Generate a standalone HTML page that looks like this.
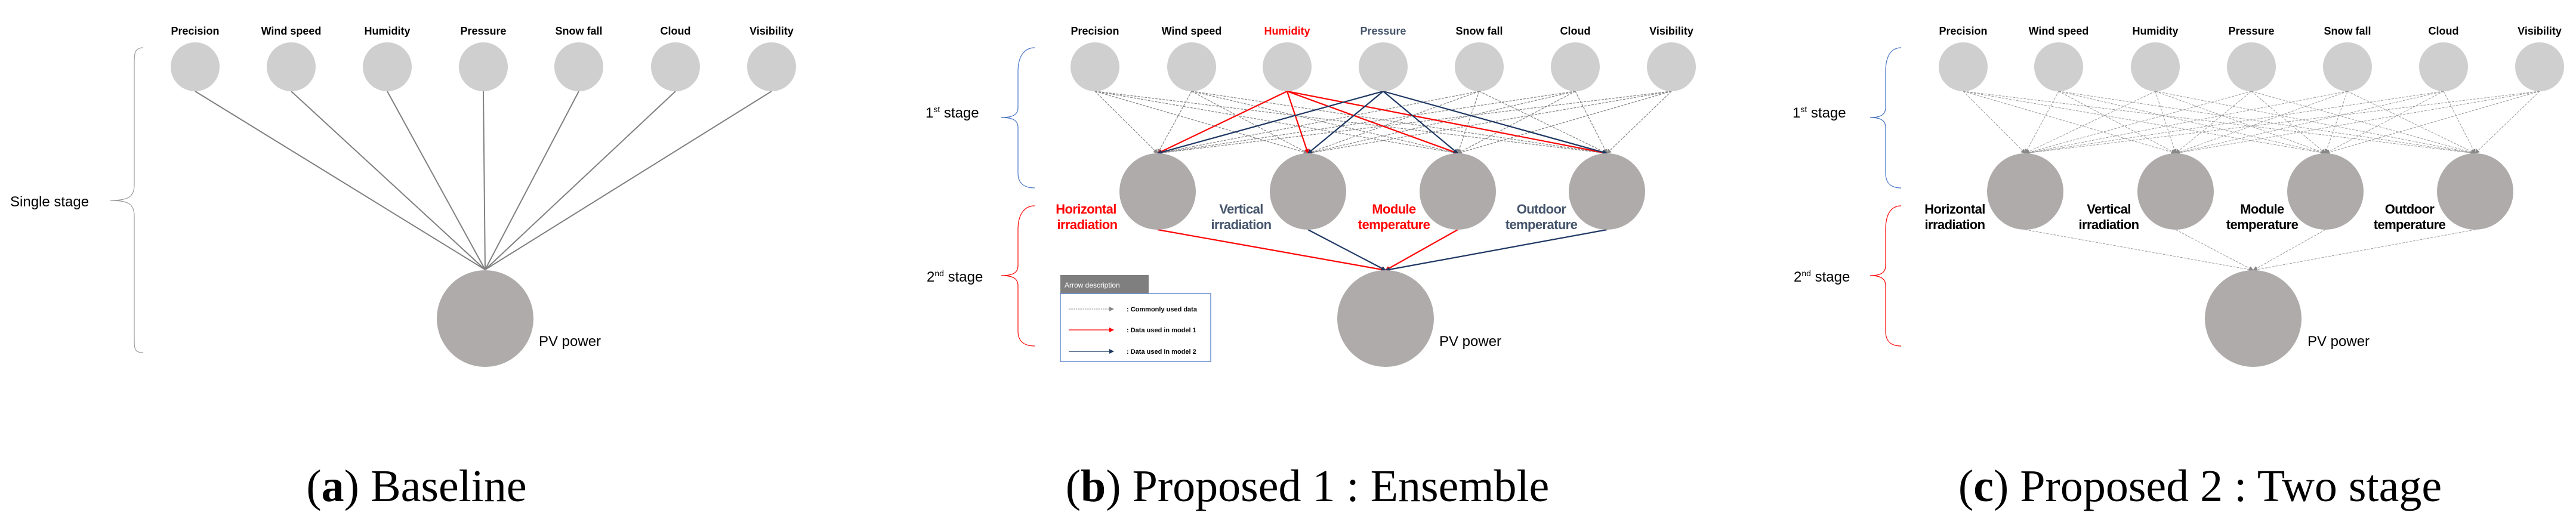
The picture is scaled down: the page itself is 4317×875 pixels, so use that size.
<!DOCTYPE html>
<html><head><meta charset="utf-8"><style>
html,body{margin:0;padding:0;background:#fff;}
svg{display:block;}
.t{font-family:"Liberation Sans",sans-serif;font-weight:bold;font-size:18px;text-anchor:middle;fill:#000;}
.m{font-family:"Liberation Sans",sans-serif;font-size:22px;font-weight:bold;text-anchor:middle;letter-spacing:-0.6px;}
.s{font-family:"Liberation Sans",sans-serif;font-size:24px;}
.cap{font-family:"Liberation Serif",serif;font-size:76px;text-anchor:middle;fill:#000;}
.lg{font-family:"Liberation Sans",sans-serif;font-size:11px;font-weight:bold;}
</style></head><body>
<svg id="s" width="4317" height="875" viewBox="0 0 4317 875" xmlns="http://www.w3.org/2000/svg">
<defs>
<marker id="ag" markerWidth="8" markerHeight="8" refX="7" refY="4" orient="auto" markerUnits="userSpaceOnUse"><path d="M0,0 L8,4 L0,8 z" fill="#888"/></marker>
<marker id="ar" markerWidth="8" markerHeight="8" refX="7" refY="4" orient="auto" markerUnits="userSpaceOnUse"><path d="M0,0 L8,4 L0,8 z" fill="#f00"/></marker>
<marker id="an" markerWidth="8" markerHeight="8" refX="7" refY="4" orient="auto" markerUnits="userSpaceOnUse"><path d="M0,0 L8,4 L0,8 z" fill="#1f3864"/></marker>
</defs>
<g id="lines"></g>

<!-- Panel a -->
<path d="M240,80 C225,80 225,90 225,110 L225,310 C225,330 215,336 185,336 C215,336 225,342 225,362 L225,565 C225,585 225,591 240,591" fill="none" stroke="#999" stroke-width="1.2"/>
<text class="s" x="17" y="346">Single stage</text>
<g fill="#d0cfd0">
<circle cx="327" cy="112" r="41"/><circle cx="488" cy="112" r="41"/><circle cx="649" cy="112" r="41"/><circle cx="810" cy="112" r="41"/><circle cx="970" cy="112" r="41"/><circle cx="1132" cy="112" r="41"/><circle cx="1293" cy="112" r="41"/>
</g>
<text x="327" y="58" class="t">Precision</text><text x="488" y="58" class="t">Wind speed</text><text x="649" y="58" class="t">Humidity</text><text x="810" y="58" class="t">Pressure</text><text x="970" y="58" class="t">Snow fall</text><text x="1132" y="58" class="t">Cloud</text><text x="1293" y="58" class="t">Visibility</text>
<circle cx="813" cy="534" r="81" fill="#afabab"/>
<text class="s" x="903" y="580">PV power</text>
<text class="cap" x="698" y="840">(<tspan font-weight="bold">a</tspan>) Baseline</text>

<!-- Panel b -->
<path d="M1734,80 C1720,80 1706,90 1706,120 L1706,180 C1706,192 1698,197 1678,197 C1698,197 1706,202 1706,214 L1706,290 C1706,310 1720,315 1734,315" fill="none" stroke="#4472c4" stroke-width="1.2"/>
<path d="M1734,345 C1720,345 1706,355 1706,385 L1706,445 C1706,457 1698,462 1678,462 C1698,462 1706,467 1706,479 L1706,555 C1706,575 1720,580 1734,580" fill="none" stroke="#f00" stroke-width="1.2"/>
<text class="s" x="1551" y="197">1<tspan font-size="14" dy="-9">st</tspan><tspan dy="9"> stage</tspan></text>
<text class="s" x="1553" y="472">2<tspan font-size="14" dy="-9">nd</tspan><tspan dy="9"> stage</tspan></text>
<g fill="#d0cfd0">
<circle cx="1835" cy="112" r="41"/><circle cx="1997" cy="112" r="41"/><circle cx="2157" cy="112" r="41"/><circle cx="2318" cy="112" r="41"/><circle cx="2479" cy="112" r="41"/><circle cx="2640" cy="112" r="41"/><circle cx="2801" cy="112" r="41"/>
</g>
<text x="1835" y="58" class="t">Precision</text><text x="1997" y="58" class="t">Wind speed</text><text x="2157" y="58" class="t" style="fill:#f00">Humidity</text><text x="2318" y="58" class="t" style="fill:#44546a">Pressure</text><text x="2479" y="58" class="t">Snow fall</text><text x="2640" y="58" class="t">Cloud</text><text x="2801" y="58" class="t">Visibility</text>
<g fill="#afabab"><circle cx="1940" cy="321" r="64"/><circle cx="2192" cy="321" r="64"/><circle cx="2443" cy="321" r="64"/><circle cx="2693" cy="321" r="64"/><circle cx="2322" cy="534" r="81"/></g>
<text class="m" fill="#f00" x="1820" y="358">Horizontal</text><text class="m" fill="#f00" x="1822" y="384">irradiation</text>
<text class="m" fill="#44546a" x="2080" y="358">Vertical</text><text class="m" fill="#44546a" x="2080" y="384">irradiation</text>
<text class="m" fill="#f00" x="2336" y="358">Module</text><text class="m" fill="#f00" x="2336" y="384">temperature</text>
<text class="m" fill="#44546a" x="2583" y="358">Outdoor</text><text class="m" fill="#44546a" x="2583" y="384">temperature</text>
<text class="s" x="2412" y="580">PV power</text>
<rect x="1777" y="461" width="148" height="31" fill="#7f7f7f"/>
<text x="1784" y="482" font-family="Liberation Sans,sans-serif" font-size="12" fill="#fff">Arrow description</text>
<rect x="1777" y="492" width="252" height="114" fill="#fff" stroke="#4472c4" stroke-width="1.2"/>
<line x1="1791" y1="518" x2="1866" y2="518" stroke="#888" stroke-dasharray="2 1" marker-end="url(#ag)"/>
<line x1="1791" y1="553" x2="1866" y2="553" stroke="#f00" stroke-width="1.3" marker-end="url(#ar)"/>
<line x1="1791" y1="589" x2="1866" y2="589" stroke="#1f3864" stroke-width="1.3" marker-end="url(#an)"/>
<text class="lg" x="1888" y="522">: Commonly used data</text>
<text class="lg" x="1888" y="557">: Data used in model 1</text>
<text class="lg" x="1888" y="593">: Data used in model 2</text>
<text class="cap" x="2191" y="840">(<tspan font-weight="bold">b</tspan>) Proposed 1 : Ensemble</text>

<!-- Panel c -->
<path d="M3186,80 C3172,80 3160,90 3160,120 L3160,180 C3160,192 3152,197 3134,197 C3152,197 3160,202 3160,214 L3160,290 C3160,310 3172,315 3186,315" fill="none" stroke="#4472c4" stroke-width="1.2"/>
<path d="M3186,345 C3172,345 3160,355 3160,385 L3160,445 C3160,457 3152,462 3134,462 C3152,462 3160,467 3160,479 L3160,555 C3160,575 3172,580 3186,580" fill="none" stroke="#f00" stroke-width="1.2"/>
<text class="s" x="3004" y="197">1<tspan font-size="14" dy="-9">st</tspan><tspan dy="9"> stage</tspan></text>
<text class="s" x="3006" y="472">2<tspan font-size="14" dy="-9">nd</tspan><tspan dy="9"> stage</tspan></text>
<g fill="#d0cfd0">
<circle cx="3290" cy="112" r="41"/><circle cx="3450" cy="112" r="41"/><circle cx="3612" cy="112" r="41"/><circle cx="3773" cy="112" r="41"/><circle cx="3934" cy="112" r="41"/><circle cx="4095" cy="112" r="41"/><circle cx="4256" cy="112" r="41"/>
</g>
<text x="3290" y="58" class="t">Precision</text><text x="3450" y="58" class="t">Wind speed</text><text x="3612" y="58" class="t">Humidity</text><text x="3773" y="58" class="t">Pressure</text><text x="3934" y="58" class="t">Snow fall</text><text x="4095" y="58" class="t">Cloud</text><text x="4256" y="58" class="t">Visibility</text>
<g fill="#afabab"><circle cx="3394" cy="321" r="64"/><circle cx="3646" cy="321" r="64"/><circle cx="3897" cy="321" r="64"/><circle cx="4148" cy="321" r="64"/><circle cx="3776" cy="534" r="81"/></g>
<text class="m" x="3276" y="358">Horizontal</text><text class="m" x="3276" y="384">irradiation</text>
<text class="m" x="3534" y="358">Vertical</text><text class="m" x="3534" y="384">irradiation</text>
<text class="m" x="3791" y="358">Module</text><text class="m" x="3791" y="384">temperature</text>
<text class="m" x="4038" y="358">Outdoor</text><text class="m" x="4038" y="384">temperature</text>
<text class="s" x="3867" y="580">PV power</text>
<text class="cap" x="3687" y="840">(<tspan font-weight="bold">c</tspan>) Proposed 2 : Two stage</text>
</svg>
<script>
(function(){
var g=document.getElementById('lines'),NS='http://www.w3.org/2000/svg';
function L(x1,y1,x2,y2,c,w,d,m){var l=document.createElementNS(NS,'line');l.setAttribute('x1',x1);l.setAttribute('y1',y1);l.setAttribute('x2',x2);l.setAttribute('y2',y2);l.setAttribute('stroke',c);l.setAttribute('stroke-width',w);if(d)l.setAttribute('stroke-dasharray',d);if(m)l.setAttribute('marker-end','url(#'+m+')');g.appendChild(l);}
var ta=[327,488,649,810,970,1132,1293];
ta.forEach(function(x){L(x,153,813,452,'#808080',2,null,null);});
var tb=[1835,1997,2157,2318,2479,2640,2801],mb=[1940,2192,2443,2693];
tb.forEach(function(x){mb.forEach(function(m){L(x,153,m,257,'#888',1.3,'4 2','ag');});});
mb.forEach(function(m){L(2157,153,m,257,'#f00',2.2,null,'ar');});
mb.forEach(function(m){L(2318,153,m,257,'#1f3864',2.2,null,'an');});
L(1940,385,2322,453,'#f00',2.2,null,'ar');L(2443,385,2322,453,'#f00',2.2,null,'ar');
L(2192,385,2322,453,'#1f3864',2.2,null,'an');L(2693,385,2322,453,'#1f3864',2.2,null,'an');
var tc=[3290,3450,3612,3773,3934,4095,4256],mc=[3394,3646,3897,4148];
tc.forEach(function(x){mc.forEach(function(m){L(x,153,m,257,'#999',1,'4 2','ag');});});
mc.forEach(function(m){L(m,385,3776,453,'#999',1,'4 2','ag');});
})();
</script>
</body></html>
